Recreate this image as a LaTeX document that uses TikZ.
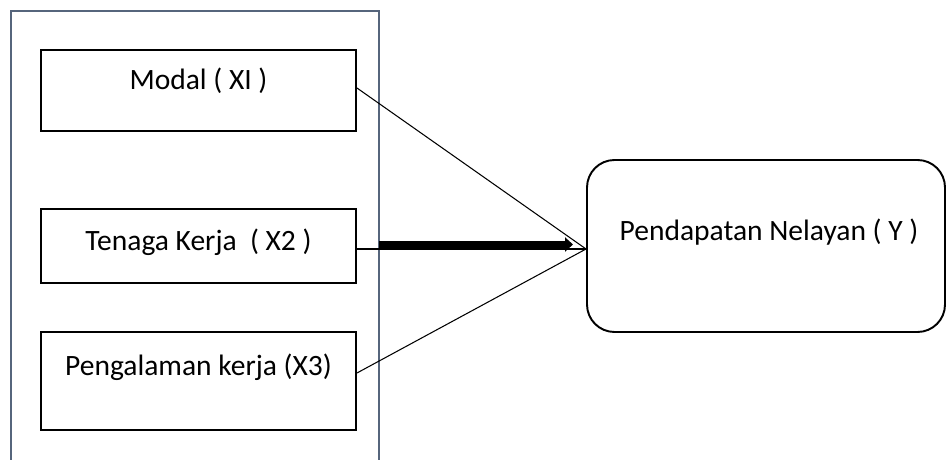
\documentclass[tikz,border=0pt]{standalone}
\usepackage{fontspec}
\setmainfont{Carlito}
\usetikzlibrary{arrows.meta,positioning,calc}
\definecolor{framegray}{HTML}{56657C}
\definecolor{ink}{HTML}{000000}

\begin{document}
\begin{tikzpicture}[line cap=butt, font=\fontsize{16.8}{20}\selectfont,
  var/.style={draw=ink, line width=1.1pt, minimum width=6.3cm, text height=0.4cm},
  link/.style={draw=ink, line width=0.6pt}]
  \useasboundingbox (0,0) rectangle (18.92,9.18);
  % grouping frame, open at the bottom
  \draw[framegray, line width=1.2pt] (0.22,-0.2) -- (0.22,8.96) -- (7.58,8.96) -- (7.58,-0.2);
  % independent variables
  \node[var, minimum height=1.62cm, text depth=0.42cm] (x1) at (3.97,7.37) {Modal ( XI )};
  \node[var, minimum height=1.48cm, text depth=0.22cm] (x2) at (3.97,4.26) {Tenaga Kerja \ ( X2 )};
  \node[var, minimum height=1.96cm, text depth=0.64cm] (x3) at (3.97,1.56) {Pengalaman kerja (X3)};
  % dependent variable
  \node[draw=ink, line width=1.1pt, rounded corners=0.55cm, minimum width=7.16cm, minimum height=3.44cm,
        text height=0.4cm, text depth=0.61cm] (y) at (15.32,4.26) {\hspace*{0.12cm}Pendapatan Nelayan ( Y )};
  % connectors
  \coordinate (hub) at ([yshift=-0.06cm]y.west);
  \draw[link] ([yshift=0.05cm]x1.east) -- (hub);
  \draw[link] (x2.east |- hub) -- (hub);
  \draw[link] ([yshift=0.16cm]x3.east) -- (hub);
  \coordinate (arrS) at (7.58,4.29);
  \coordinate (arrE) at (11.46,4.29);
  \draw[ink, line width=4pt, -{Triangle[length=1.6mm, width=2.8mm]}] (arrS) -- (arrE);
\end{tikzpicture}
\end{document}
